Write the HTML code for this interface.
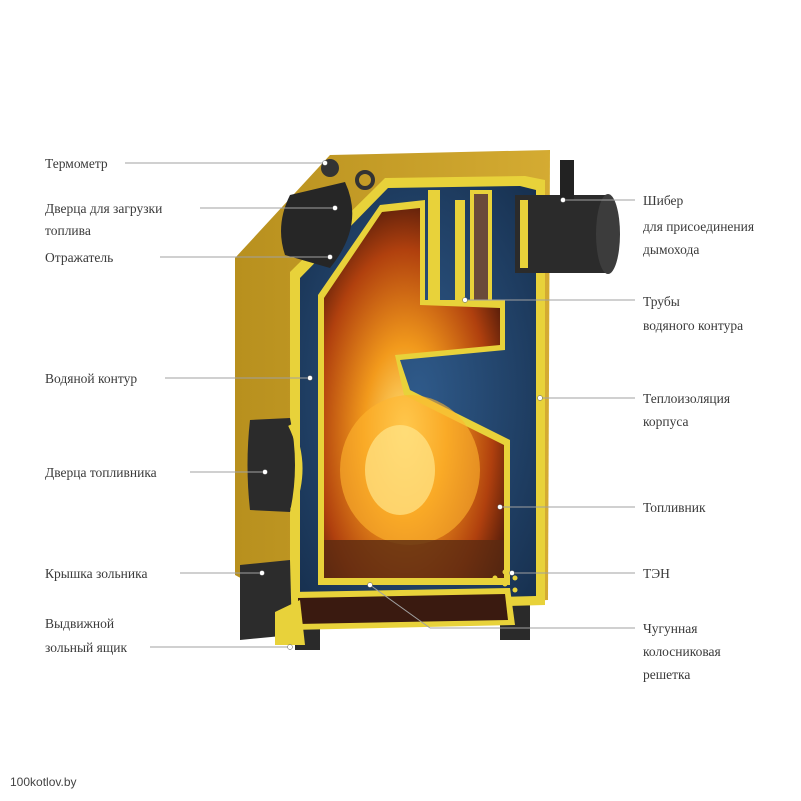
<!DOCTYPE html>
<html><head><meta charset="utf-8"><style>
body{margin:0;background:#fff;width:801px;height:801px;overflow:hidden}
svg{display:block}
.l{font-family:"Liberation Serif",serif;font-size:13.5px;fill:#3a3a3a}
.ln{stroke:#a0a0a0;stroke-width:1}
.d{fill:#fff;stroke:#555;stroke-width:.5}
</style></head><body>
<svg width="801" height="801" viewBox="0 0 801 801">
<defs>
<radialGradient id="fire" cx="0.45" cy="0.6" r="0.65">
<stop offset="0" stop-color="#ffe27a"/><stop offset="0.35" stop-color="#f29a1c"/><stop offset="0.75" stop-color="#b0400e"/><stop offset="1" stop-color="#4a180a"/></radialGradient>
<linearGradient id="body" x1="0" x2="1"><stop offset="0" stop-color="#b8901e"/><stop offset="1" stop-color="#d4ab32"/></linearGradient>
<radialGradient id="water" cx="0.5" cy="0.5" r="0.7"><stop offset="0" stop-color="#2f5a8a"/><stop offset="1" stop-color="#17304f"/></radialGradient>
</defs>
<polygon points="295,595 320,595 320,650 295,650" fill="#2a2a2a"/>
<polygon points="500,595 530,595 530,640 500,640" fill="#2a2a2a"/>
<polygon points="235,258 330,155 550,150 548,600 300,610 235,575" fill="url(#body)"/>
<polygon points="290,272 385,178 525,176 545,180 545,605 290,612" fill="#e8d23a"/>
<polygon points="300,278 388,188 520,186 536,190 536,596 300,602" fill="url(#water)"/>
<rect x="515" y="195" width="95" height="78" fill="#2b2b2b"/>
<ellipse cx="608" cy="234" rx="12" ry="40" fill="#3c3c3c"/>
<rect x="520" y="200" width="8" height="68" fill="#e8d23a"/>
<rect x="560" y="160" width="14" height="40" fill="#222"/>
<rect x="428" y="190" width="12" height="110" fill="#e8d23a"/>
<rect x="470" y="190" width="22" height="115" fill="#e8d23a"/>
<rect x="474" y="194" width="14" height="106" fill="#6a4a3a"/>
<polygon points="318,295 380,205 425,200 425,300 455,300 455,200 465,200 465,300 505,300 505,350 400,360 410,390 510,440 510,585 318,585" fill="#e8d23a"/>
<polygon points="324,298 382,212 420,208 420,305 500,308 500,345 395,355 404,395 504,445 504,578 324,578" fill="url(#fire)"/>
<ellipse cx="410" cy="470" rx="70" ry="75" fill="#ffb52e" opacity="0.6"/>
<ellipse cx="400" cy="470" rx="35" ry="45" fill="#ffe68a" opacity="0.7"/>
<rect x="324" y="540" width="180" height="38" fill="#5a2a12" opacity="0.8"/>
<polygon points="290,592 510,588 515,625 290,630" fill="#e8d23a"/>
<polygon points="298,598 505,594 508,620 298,624" fill="#3a1a10"/>
<polygon points="240,565 290,560 292,635 240,640" fill="#2c2c2c"/>
<polygon points="275,612 300,600 305,645 275,645" fill="#e8d23a"/>
<path d="M250,420 Q245,465 250,510 L290,512 Q300,465 290,418 Z" fill="#2b2b2b"/>
<path d="M290,425 Q310,465 292,510" stroke="#e8d23a" stroke-width="4" fill="none"/>
<path d="M290,195 L345,182 Q365,225 330,268 L285,255 Q275,225 290,195 Z" fill="#262626"/>
<circle cx="330" cy="168" r="9" fill="#333"/>
<circle cx="365" cy="180" r="8" fill="none" stroke="#333" stroke-width="4"/>
<g fill="#e8d23a"><circle cx="505" cy="572" r="2.5"/><circle cx="515" cy="578" r="2.5"/><circle cx="505" cy="584" r="2.5"/><circle cx="495" cy="578" r="2.5"/><circle cx="515" cy="590" r="2.5"/></g>
<g class="ln">
<line x1="125" y1="163" x2="325" y2="163"/>
<line x1="200" y1="208" x2="335" y2="208"/>
<line x1="160" y1="257" x2="330" y2="257"/>
<line x1="165" y1="378" x2="310" y2="378"/>
<line x1="190" y1="472" x2="265" y2="472"/>
<line x1="180" y1="573" x2="262" y2="573"/>
<line x1="150" y1="647" x2="290" y2="647"/>
<line x1="563" y1="200" x2="635" y2="200"/>
<line x1="465" y1="300" x2="635" y2="300"/>
<line x1="540" y1="398" x2="635" y2="398"/>
<line x1="500" y1="507" x2="635" y2="507"/>
<line x1="512" y1="573" x2="635" y2="573"/>
<line x1="370" y1="585" x2="430" y2="628"/><line x1="430" y1="628" x2="635" y2="628"/>
</g>
<g class="d">
<circle cx="325" cy="163" r="2.5"/><circle cx="335" cy="208" r="2.5"/><circle cx="330" cy="257" r="2.5"/>
<circle cx="310" cy="378" r="2.5"/><circle cx="265" cy="472" r="2.5"/><circle cx="262" cy="573" r="2.5"/>
<circle cx="290" cy="647" r="2.5"/><circle cx="563" cy="200" r="2.5"/><circle cx="465" cy="300" r="2.5"/>
<circle cx="540" cy="398" r="2.5"/><circle cx="500" cy="507" r="2.5"/><circle cx="512" cy="573" r="2.5"/><circle cx="370" cy="585" r="2.5"/>
</g>
<g class="l">
<text x="45" y="168">Термометр</text>
<text x="45" y="213">Дверца для загрузки</text>
<text x="45" y="235">топлива</text>
<text x="45" y="262">Отражатель</text>
<text x="45" y="383">Водяной контур</text>
<text x="45" y="477">Дверца топливника</text>
<text x="45" y="578">Крышка зольника</text>
<text x="45" y="628">Выдвижной</text>
<text x="45" y="652">зольный ящик</text>
<text x="643" y="205">Шибер</text>
<text x="643" y="231">для присоединения</text>
<text x="643" y="254">дымохода</text>
<text x="643" y="306">Трубы</text>
<text x="643" y="330">водяного контура</text>
<text x="643" y="403">Теплоизоляция</text>
<text x="643" y="426">корпуса</text>
<text x="643" y="512">Топливник</text>
<text x="643" y="578">ТЭН</text>
<text x="643" y="633">Чугунная</text>
<text x="643" y="656">колосниковая</text>
<text x="643" y="679">решетка</text>
</g>
<text x="10" y="786" font-family="Liberation Sans,sans-serif" font-size="12" fill="#444">100kotlov.by</text>
</svg>
</body></html>
